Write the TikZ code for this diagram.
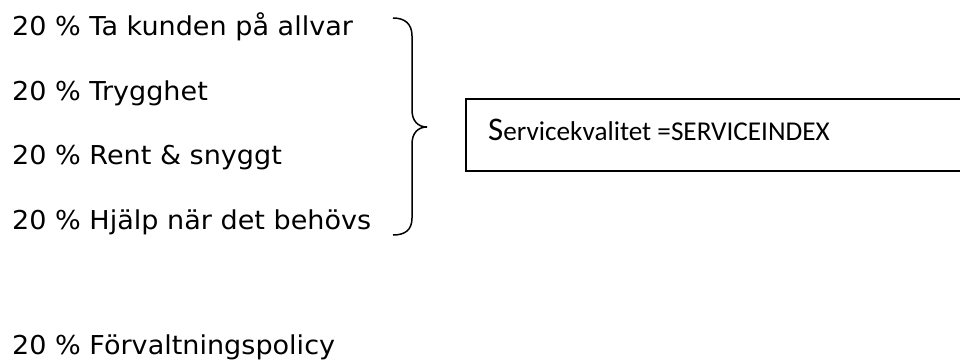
\documentclass[tikz,border=0pt]{standalone}
\usepackage{fontspec}
\newfontfamily\verd[FakeStretch=1.04]{DejaVu Sans}
\newfontfamily\calib{Carlito}
\begin{document}
\begin{tikzpicture}[x=1pt,y=-1pt,
  item/.style={anchor=base west,inner sep=0pt,font=\verd\fontsize{26}{30}\selectfont},
  boxline/.style={line width=2pt},
  bracel/.style={line width=1.5pt}]
\useasboundingbox (0,0) rectangle (960,361);
\node[item] (t1) at (12,36) {20 \% Ta kunden på allvar};
\node[item] (t2) at (12,100.7) {20 \% Trygghet};
\node[item] (t3) at (12,164.3) {20 \% Rent \& snyggt};
\node[item] (t4) at (12,229) {20 \% Hjälp när det behövs};
\node[item] (t5) at (12,354) {20 \% Förvaltningspolicy};
% brace
\draw[bracel] (393,18) .. controls (405,18) and (412,24) .. (412,36)
  -- (412,110) .. controls (412,121) and (418,127) .. (427,127)
  .. controls (418,127) and (412,133) .. (412,144)
  -- (412,218) .. controls (412,230) and (405,235) .. (393,235);
% box
\draw[boxline] (962,99) -- (466,99) -- (466,171) -- (962,171);
\node[anchor=base west,inner sep=0pt] (svc) at (488,140)
  {\calib\fontsize{33}{36}\selectfont S\fontsize{27.2}{32}\selectfont ervicekvalitet =SERVICEINDEX};
\end{tikzpicture}
\end{document}
